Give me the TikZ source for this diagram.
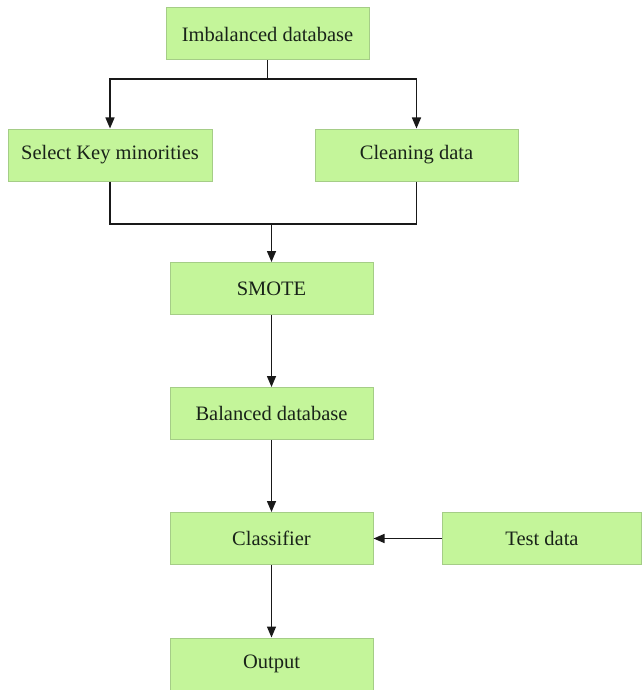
\documentclass[tikz,border=0pt]{standalone}
\usepackage{fontspec}
\setmainfont{Liberation Serif}
\usetikzlibrary{arrows.meta,calc}
\definecolor{boxfill}{RGB}{196,245,154}
\definecolor{boxline}{RGB}{165,205,135}
\definecolor{inktext}{RGB}{25,35,25}
\begin{document}
\begin{tikzpicture}[x=1pt,y=-1pt,
  stepbox/.style={draw=boxline,line width=1pt,fill=boxfill,inner sep=0pt,
    minimum width=203pt,minimum height=52pt,text=inktext,
    font=\fontsize{20.5}{24}\selectfont},
  link/.style={line width=1.5pt,draw=black!90},
  flow/.style={link,-{Triangle[length=11pt,width=9pt]}}]
\useasboundingbox (0,0) rectangle (642,690);

\node[stepbox] (imb)   at (267.5,34)  {Imbalanced database};
\node[stepbox,minimum width=204pt] (sel) at (110,155) {Select Key minorities};
\node[stepbox] (cln)   at (416.5,155) {Cleaning data};
\node[stepbox] (smote) at (271.5,288.5) {SMOTE};
\node[stepbox] (bal)   at (271.5,413.5) {Balanced database};
\node[stepbox] (cls)   at (271.5,538.5) {Classifier};
\node[stepbox,minimum width=199pt] (test) at (542,538.5) {Test data};
\node[stepbox] (out)   at (271.5,664) {Output};

% split from the source data into the two preparation steps
\coordinate (split) at (imb.south |- 0,79);
\draw[link] (imb.south) -- (split);
\draw[flow] (split) -| (sel.north);
\draw[flow] (split) -| (cln.north);

% merge of the two preparation steps into SMOTE
\coordinate (merge) at (271.5,224);
\draw[link] (sel.south) |- (merge);
\draw[link] (cln.south) |- (merge);
\draw[flow] (merge) -- (merge |- smote.north);

\draw[flow] (smote) -- (bal);
\draw[flow] (bal) -- (cls);
\draw[flow] (test) -- (cls);
\draw[flow] (cls) -- (out);
\end{tikzpicture}
\end{document}
